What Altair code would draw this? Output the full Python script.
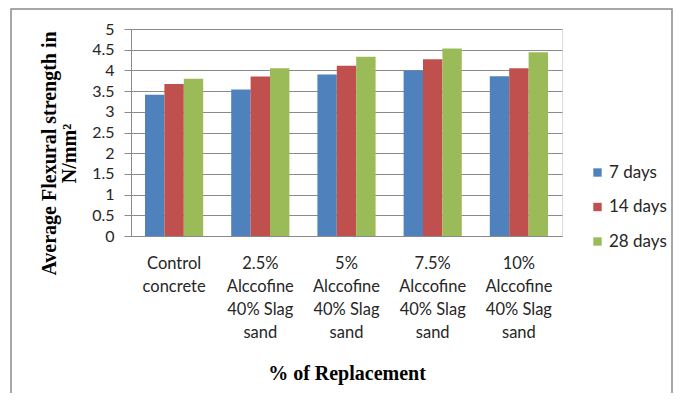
import altair as alt
import pandas as pd

categories = [
    "Control\nconcrete",
    "2.5%\nAlccofine\n40% Slag\nsand",
    "5%\nAlccofine\n40% Slag\nsand",
    "7.5%\nAlccofine\n40% Slag\nsand",
    "10%\nAlccofine\n40% Slag\nsand",
]
series = ["7 days", "14 days", "28 days"]
days7 = [3.41, 3.54, 3.90, 4.00, 3.86]
days14 = [3.67, 3.85, 4.11, 4.27, 4.05]
days28 = [3.80, 4.05, 4.33, 4.53, 4.44]
colors = ["#4F81BD", "#C0504D", "#9BBB59"]
y_ticks = [0, 0.5, 1, 1.5, 2, 2.5, 3, 3.5, 4, 4.5, 5]

rows = []
for s, vals in zip(series, [days7, days14, days28]):
    for c, v in zip(categories, vals):
        rows.append({"cat": c, "series": s, "value": v})
df = pd.DataFrame(rows)

W, H = 431, 207
LABEL_FONT = "Lato"
TITLE_FONT = "Liberation Serif"

bars = alt.Chart(df).mark_bar().encode(
    x=alt.X(
        "cat:N",
        sort=categories,
        scale=alt.Scale(paddingInner=0.325, paddingOuter=0.1625),
        axis=alt.Axis(
            title="% of Replacement",
            labelExpr="split(datum.label, '\\n')",
            labelAngle=0,
            labelFont=LABEL_FONT,
            labelFontSize=16.5,
            labelLineHeight=23,
            labelColor="#262626",
            labelPadding=19,
            ticks=False,
            domainColor="#8a8a8a",
            titleFont=TITLE_FONT,
            titleFontSize=20,
            titleFontWeight="bold",
            titleColor="#000000",
            titleBaseline="middle",
            titleY=137,
        ),
    ),
    xOffset=alt.XOffset("series:N", sort=series),
    y=alt.Y(
        "value:Q",
        scale=alt.Scale(domain=[0, 5], nice=False),
        axis=alt.Axis(
            values=y_ticks,
            format="~g",
            title=["Average Flexural strength in", "N/mm\u00b2"],
            titleFont=TITLE_FONT,
            titleFontSize=20,
            titleFontWeight="bold",
            titleColor="#000000",
            titleAngle=-90,
            titleBaseline="middle",
            titleAlign="center",
            titleLineHeight=20,
            titleX=-82,
            titleY=124,
            labelFont=LABEL_FONT,
            labelFontSize=16,
            labelColor="#262626",
            labelPadding=10,
            tickSize=7,
            tickColor="#8a8a8a",
            domainColor="#8a8a8a",
            gridColor="#8a8a8a",
            labelFlush=False,
            labelOverlap=False,
        ),
    ),
    color=alt.Color(
        "series:N",
        sort=series,
        scale=alt.Scale(domain=series, range=colors),
        legend=alt.Legend(
            title=None,
            orient="none",
            legendX=458,
            legendY=135,
            symbolType="square",
            symbolSize=70,
            symbolStrokeWidth=0,
            labelFont=LABEL_FONT,
            labelFontSize=17,
            labelColor="#262626",
            labelOffset=3,
            rowPadding=16.5,
            padding=0,
        ),
    ),
)

frame = alt.Chart(pd.DataFrame({"a": [0]})).mark_rect(
    fill=None, stroke="#8a8a8a", strokeWidth=1.5, clip=False
).encode(
    x=alt.value(-120),
    x2=alt.value(541),
    y=alt.value(-20),
    y2=alt.value(400),
)

chart = alt.layer(frame, bars).properties(
    width=W,
    height=H,
    autosize=alt.AutoSizeParams(type="none"),
    padding={"left": 123, "top": 21, "right": 112, "bottom": 157},
).configure_view(stroke=None).configure(background="white")

chart.save("out.html", embed_options={"renderer": "svg", "actions": False})
